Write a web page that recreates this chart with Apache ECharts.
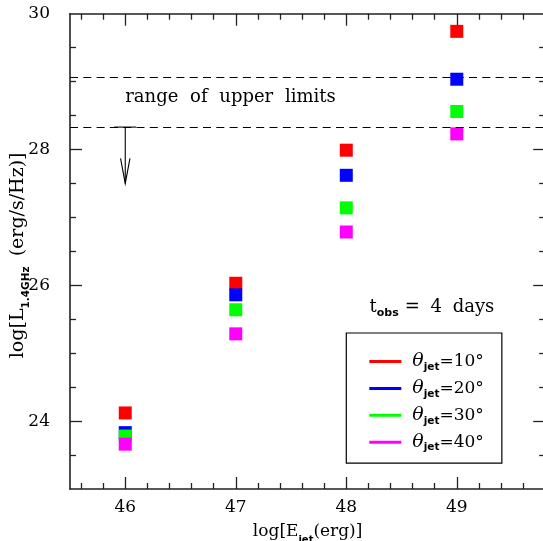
<!DOCTYPE html>
<html>
<head>
<meta charset="utf-8">
<script src="https://cdn.jsdelivr.net/npm/echarts@6/dist/echarts.min.js"></script>
<style>html,body{margin:0;padding:0;background:#fff;}#c{width:543px;height:541px;}</style>
</head>
<body>
<div id="c"></div>
<script>
// ---- data ----
var energies = [46, 47, 48, 49];
var lum10 = [24.12, 26.03, 27.99, 29.74];
var lum20 = [23.83, 25.86, 27.62, 29.035];
var lum30 = [23.78, 25.64, 27.14, 28.56];
var lum40 = [23.66, 25.285, 26.785, 28.23];
var angleNames = ['10°', '20°', '30°', '40°'];
var upperLimits = [29.07, 28.33];
var arrowFrom = 28.33, arrowTo = 27.5, arrowX = 46;
var xMajorTicks = [46, 47, 48, 49];
var xMinorTicks = [45.6, 45.8, 46.2, 46.4, 46.6, 46.8, 47.2, 47.4, 47.6, 47.8, 48.2, 48.4, 48.6, 48.8, 49.2, 49.4, 49.6];
var yMajorTicks = [24, 26, 28];
var yLabelTicks = [24, 26, 28, 30];
var yMinorTicks = [23.5, 24.5, 25, 25.5, 26.5, 27, 27.5, 28.5, 29, 29.5];
var xRange = [45.5, 49.8];
var yRange = [23, 30];

var colors = ['#ff0000', '#0000ff', '#00ff00', '#ff00ff'];
var lumSets = [lum10, lum20, lum30, lum40];

var SERIF = '"DejaVu Serif", "Liberation Serif", serif';
var SANS = '"DejaVu Sans", sans-serif';
var AX = '#222';

function pairs(ys) { return energies.map(function (e, i) { return [e, ys[i]]; }); }

function xAx(pos, ticks, len, showLine, showLabel, extra) {
  var o = {
    type: 'value', position: pos, min: xRange[0], max: xRange[1], gridIndex: 0,
    axisLine: { show: showLine, onZero: false, lineStyle: { color: AX, width: 1.6 } },
    axisTick: { show: true, inside: true, length: len, customValues: ticks, lineStyle: { color: AX, width: 1.3 } },
    axisLabel: { show: showLabel, customValues: ticks, margin: 10, color: '#000', fontFamily: SERIF, fontSize: 17 },
    splitLine: { show: false }
  };
  return Object.assign(o, extra || {});
}
function yAx(pos, ticks, len, showLine, showLabel, labelTicks, extra) {
  var o = {
    type: 'value', position: pos, min: yRange[0], max: yRange[1], gridIndex: 0,
    axisLine: { show: showLine, onZero: false, lineStyle: { color: AX, width: 1.6 } },
    axisTick: { show: true, inside: true, length: len, customValues: ticks, lineStyle: { color: AX, width: 1.3 } },
    axisLabel: { show: showLabel, customValues: labelTicks || ticks, margin: 20, color: '#000', fontFamily: SERIF, fontSize: 17 },
    splitLine: { show: false }
  };
  return Object.assign(o, extra || {});
}

var series = lumSets.map(function (ys, i) {
  return {
    name: angleNames[i], type: 'scatter', xAxisIndex: 0, yAxisIndex: 0,
    symbol: 'rect', symbolSize: 13, itemStyle: { color: colors[i], opacity: 1 },
    data: pairs(ys), z: 3
  };
});

// annotations: dashed limit lines, arrow, texts
series.push({
  type: 'custom', xAxisIndex: 0, yAxisIndex: 0, silent: true, z: 2,
  data: [[arrowX, arrowFrom, arrowTo]],
  renderItem: function (params, api) {
    var p0 = api.coord([api.value(0), api.value(1)]);
    var p1 = api.coord([api.value(0), api.value(2)]);
    var st = { stroke: '#000', lineWidth: 1.1, fill: null };
    return {
      type: 'group',
      children: [
        { type: 'line', shape: { x1: p0[0], y1: p0[1], x2: p1[0], y2: p1[1] }, style: st },
        { type: 'line', shape: { x1: p0[0] - 11, y1: p0[1], x2: p0[0] + 11, y2: p0[1] }, style: st },
        { type: 'polyline', shape: { points: [[p1[0] - 4.7, p1[1] - 25], [p1[0], p1[1]], [p1[0] + 4.7, p1[1] - 25]] }, style: st }
      ]
    };
  },
  markLine: {
    silent: true, symbol: ['none', 'none'], label: { show: false },
    lineStyle: { color: '#000', width: 1.1, type: [8, 5.3], opacity: 1 },
    emphasis: { disabled: true },
    data: upperLimits.map(function (v) { return { yAxis: v }; })
  }
});

var richText = {
  w: { fontFamily: SERIF, fontSize: 18, lineHeight: 24, verticalAlign: 'middle', fill: '#000', padding: [0, 6, 0, 0] },
  v: { fontFamily: SERIF, fontSize: 18, lineHeight: 24, verticalAlign: 'middle', fill: '#000', padding: [0, 5, 0, 0] },
  m: { fontFamily: SERIF, fontSize: 18, lineHeight: 24, verticalAlign: 'middle', fill: '#000' },
  sub: { fontFamily: SANS, fontWeight: 'bold', fontSize: 11, lineHeight: 24, verticalAlign: 'bottom', fill: '#000', padding: [0, 6, 0, 0] }
};

series.push({
  type: 'custom', xAxisIndex: 0, yAxisIndex: 0, silent: true, z: 2,
  data: [[46.0, 28.77, 0], [48.21, 25.68, 1]],
  renderItem: function (params, api) {
    var p = api.coord([api.value(0), api.value(1)]);
    var which = api.value(2);
    var txt = which === 0 ? '{w|range} {w|of} {w|upper} {m|limits}' : '{m|t}{sub|obs}{v|=} {v|4} {m|days}';
    return {
      type: 'text', x: p[0], y: p[1],
      style: {
        text: txt, fill: '#000', fontFamily: SERIF, fontSize: 18,
        align: 'left', verticalAlign: 'middle',
        rich: richText
      }
    };
  }
});

var option = {
  animation: false,
  backgroundColor: '#fff',
  grid: { left: 70, top: 13.7, width: 475.2, height: 475.3, containLabel: false, outerBoundsMode: 'none' },
  xAxis: [
    xAx('bottom', xMajorTicks, 12, true, true, {
      name: 'log[E{sub|jet}(erg)]', nameLocation: 'middle', nameGap: 30,
      nameTextStyle: {
        color: '#000', fontFamily: SERIF, fontSize: 17,
        rich: { sub: { fontFamily: SANS, fontWeight: 'bold', fontSize: 10, verticalAlign: 'bottom', lineHeight: 26 } }
      }
    }),
    xAx('bottom', xMinorTicks, 6, false, false),
    xAx('top', xMajorTicks, 12, true, false),
    xAx('top', xMinorTicks, 6, false, false)
  ],
  yAxis: [
    yAx('left', yMajorTicks, 12, true, true, yLabelTicks, {
      name: 'log[L{sub|1.4GHz} (erg/s/Hz)]', nameLocation: 'middle', nameGap: 38, nameRotate: 90,
      nameMoveOverlap: false,
      nameTextStyle: {
        color: '#000', fontFamily: SERIF, fontSize: 19, padding: [0, 8, 0, 0],
        rich: { sub: { fontFamily: SANS, fontWeight: 'bold', fontSize: 10.5, verticalAlign: 'bottom', lineHeight: 27, padding: [0, 4, 0, 0] } }
      }
    }),
    yAx('left', yMinorTicks, 6, false, false),
    yAx('right', yMajorTicks, 12, true, false),
    yAx('right', yMinorTicks, 6, false, false)
  ],
  legend: {
    show: true, orient: 'vertical', left: 346.3, top: 333,
    data: angleNames.map(function (n) { return { name: n, icon: 'rect' }; }),
    itemWidth: 32, itemHeight: 3, itemGap: 6.4,
    padding: [19, 18, 10, 23],
    borderColor: '#000', borderWidth: 1.2, backgroundColor: '#fff',
    selectedMode: false,
    formatter: function (n) { return '{th|θ}{sub|jet}{eq|=' + n + '}'; },
    textStyle: {
      color: '#000', padding: [0, 0, 0, 6],
      rich: {
        th: { fontFamily: SERIF, fontStyle: 'italic', fontSize: 19, lineHeight: 22, verticalAlign: 'middle' },
        sub: { fontFamily: SANS, fontWeight: 'bold', fontSize: 10.5, lineHeight: 22, verticalAlign: 'bottom' },
        eq: { fontFamily: SERIF, fontSize: 17, lineHeight: 22, verticalAlign: 'middle' }
      }
    }
  },
  series: series
};

var chart = echarts.init(document.getElementById('c'), null, { renderer: 'canvas' });
chart.setOption(option);
</script>
</body>
</html>
